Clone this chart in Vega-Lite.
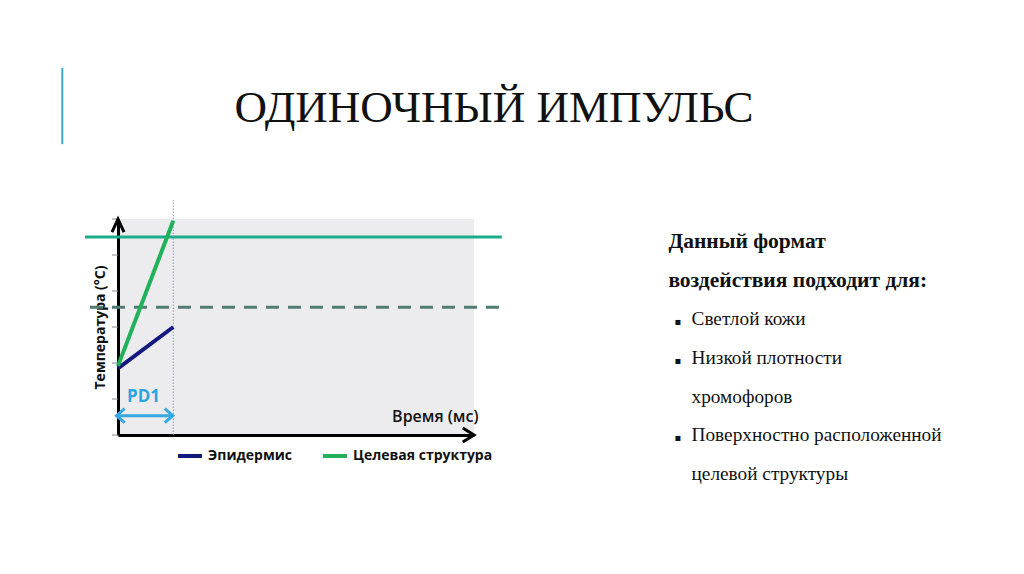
{
  "$schema": "https://vega.github.io/schema/vega-lite/v6.json",
  "width": 356,
  "height": 216,
  "autosize": {"type": "none"},
  "padding": {"left": 118, "top": 219, "right": 550, "bottom": 139},
  "background": "white",
  "config": {
    "view": {"fill": "#ececee", "stroke": null},
    "font": "Open Sans",
    "axisX": {
      "ticks": false,
      "labels": false,
      "grid": false,
      "domainColor": "#000",
      "domainWidth": 3,
      "titleX": 360,
      "titleY": -19,
      "titleAlign": "right",
      "titleBaseline": "middle",
      "titleFont": "Open Sans",
      "titleFontSize": 16,
      "titleFontWeight": 600,
      "titleColor": "#111"
    },
    "axisY": {
      "ticks": false,
      "labels": false,
      "grid": false,
      "domainColor": "#000",
      "domainWidth": 3,
      "titleFont": "Open Sans",
      "titleFontSize": 14,
      "titleFontWeight": "bold",
      "titleColor": "#111",
      "titlePadding": 11
    }
  },
  "datasets": {
    "series": [
      {"series": "Эпидермис", "time": 0, "temp": 1.85},
      {"series": "Эпидермис", "time": 15.53, "temp": 3.0},
      {"series": "Целевая структура", "time": 0, "temp": 1.92},
      {"series": "Целевая структура", "time": 15.53, "temp": 5.95}
    ],
    "yticks": [
      {"temp": 0}, {"temp": 1}, {"temp": 2}, {"temp": 3}, {"temp": 4}, {"temp": 5}, {"temp": 6}
    ],
    "notes": [
      {"line": 1, "text": "Данный формат", "kind": "heading", "bullet": false},
      {"line": 2, "text": "воздействия подходит для:", "kind": "heading", "bullet": false},
      {"line": 3, "text": "Светлой кожи", "kind": "item", "bullet": true},
      {"line": 4, "text": "Низкой плотности", "kind": "item", "bullet": true},
      {"line": 5, "text": "хромофоров", "kind": "item", "bullet": false},
      {"line": 6, "text": "Поверхностно расположенной", "kind": "item", "bullet": true},
      {"line": 7, "text": "целевой структуры", "kind": "item", "bullet": false}
    ]
  },
  "layer": [
    {
      "layer": [
        {
          "data": {"name": "yticks"},
          "mark": {"type": "rule", "color": "#8a8a8a", "strokeWidth": 1},
          "encoding": {
            "x": {"datum": -1.7},
            "x2": {"datum": 0},
            "y": {"field": "temp", "type": "quantitative"}
          }
        },
        {
          "data": {"name": "series"},
          "mark": {"type": "line", "strokeWidth": 4, "opacity": 0},
          "encoding": {
            "x": {
              "field": "time",
              "type": "quantitative",
              "scale": {"domain": [0, 100], "nice": false, "zero": false},
              "axis": {"title": "Время (мс)"}
            },
            "y": {
              "field": "temp",
              "type": "quantitative",
              "scale": {"domain": [0, 6], "nice": false, "zero": false},
              "axis": {"title": "Температура (°C)"}
            },
            "detail": {"field": "series", "type": "nominal"}
          }
        },
        {
          "data": {"values": [{}]},
          "mark": {"type": "rule", "color": "#3aa9d9", "strokeWidth": 2},
          "encoding": {
            "x": {"datum": -15.65},
            "y": {"datum": 10.2},
            "y2": {"datum": 8.08}
          }
        },
        {
          "data": {"values": [{}]},
          "mark": {"type": "text", "text": "ОДИНОЧНЫЙ ИМПУЛЬС", "font": "Liberation Serif", "fontSize": 45, "align": "center", "baseline": "alphabetic", "color": "#111"},
          "encoding": {
            "x": {"datum": 105.6},
            "y": {"datum": 8.69}
          }
        },
        {
          "data": {"values": [{}]},
          "mark": {"type": "rule", "color": "#4f7b73", "strokeWidth": 3, "strokeDash": [13, 9]},
          "encoding": {
            "x": {"datum": -7.87},
            "x2": {"datum": 109.1},
            "y": {"datum": 3.55}
          }
        },
        {
          "data": {"values": [{}]},
          "mark": {"type": "rule", "color": "#1bac88", "strokeWidth": 3},
          "encoding": {
            "x": {"datum": -9.27},
            "x2": {"datum": 107.8},
            "y": {"datum": 5.5}
          }
        },
        {
          "data": {"values": [{}]},
          "mark": {"type": "rule", "color": "#8aa0b0", "strokeWidth": 1, "strokeDash": [1.5, 1.5]},
          "encoding": {
            "x": {"datum": 15.53},
            "y": {"datum": 0},
            "y2": {"datum": 6.53}
          }
        },
        {
          "data": {"name": "series"},
          "mark": {"type": "line", "strokeWidth": 4},
          "encoding": {
            "x": {"field": "time", "type": "quantitative"},
            "y": {"field": "temp", "type": "quantitative"},
            "color": {
              "field": "series",
              "type": "nominal",
              "scale": {"domain": ["Эпидермис", "Целевая структура"], "range": ["#141a7b", "#20b15a"]},
              "legend": {
                "orient": "none",
                "legendX": 58,
                "legendY": 223,
                "direction": "horizontal",
                "title": null,
                "symbolType": "stroke",
                "symbolSize": 576,
                "symbolStrokeWidth": 4,
                "labelFont": "Open Sans",
                "labelFontWeight": "bold",
                "labelFontSize": 14,
                "labelColor": "#111",
                "labelOffset": 4,
                "columnPadding": 22,
                "padding": 0
              }
            }
          }
        },
        {
          "data": {"values": [{}]},
          "mark": {"type": "point", "shape": "M-1,2.2L0,0L1,2.2", "size": 144, "filled": false, "color": "#000", "strokeWidth": 3, "opacity": 1},
          "encoding": {
            "x": {"datum": 0},
            "y": {"datum": 6}
          }
        },
        {
          "data": {"values": [{}]},
          "mark": {"type": "point", "shape": "M-1.6,-1L0,0L-1.6,1", "size": 196, "filled": false, "color": "#000", "strokeWidth": 3, "opacity": 1},
          "encoding": {
            "x": {"datum": 100},
            "y": {"datum": 0}
          }
        },
        {
          "data": {"values": [{}]},
          "mark": {"type": "rule", "color": "#35a9e1", "strokeWidth": 3},
          "encoding": {
            "x": {"datum": -0.1},
            "x2": {"datum": 15.2},
            "y": {"datum": 0.536}
          }
        },
        {
          "data": {"values": [{}]},
          "mark": {"type": "point", "shape": "M1.15,-1L0,0L1.15,1", "size": 196, "filled": false, "color": "#35a9e1", "strokeWidth": 3, "opacity": 1},
          "encoding": {
            "x": {"datum": -0.42},
            "y": {"datum": 0.536}
          }
        },
        {
          "data": {"values": [{}]},
          "mark": {"type": "point", "shape": "M-1.15,-1L0,0L-1.15,1", "size": 196, "filled": false, "color": "#35a9e1", "strokeWidth": 3, "opacity": 1},
          "encoding": {
            "x": {"datum": 15.4},
            "y": {"datum": 0.536}
          }
        },
        {
          "data": {"values": [{}]},
          "mark": {"type": "text", "text": "PD1", "font": "Open Sans", "fontWeight": "bold", "fontSize": 17, "align": "center", "baseline": "middle", "color": "#2aa5df"},
          "encoding": {
            "x": {"datum": 7.16},
            "y": {"datum": 1.05}
          }
        }
      ]
    },
    {
      "data": {"name": "notes"},
      "encoding": {
        "y": {
          "field": "line",
          "type": "ordinal",
          "scale": {"type": "point", "domain": [1, 2, 3, 4, 5, 6, 7], "range": [29, 261], "padding": 0},
          "axis": null
        }
      },
      "layer": [
        {
          "transform": [{"filter": "datum.kind === 'heading'"}],
          "mark": {"type": "text", "font": "Liberation Serif", "fontWeight": "bold", "fontSize": 21.5, "align": "left", "baseline": "alphabetic", "color": "#111"},
          "encoding": {
            "x": {"datum": 154.6},
            "text": {"field": "text"}
          }
        },
        {
          "transform": [{"filter": "datum.kind === 'item'"}],
          "mark": {"type": "text", "font": "Liberation Serif", "fontSize": 19.3, "align": "left", "baseline": "alphabetic", "color": "#111"},
          "encoding": {
            "x": {"datum": 161.1},
            "text": {"field": "text"}
          }
        },
        {
          "transform": [{"filter": "datum.bullet"}],
          "mark": {"type": "text", "text": "▪", "font": "DejaVu Sans", "fontSize": 10, "align": "left", "baseline": "alphabetic", "color": "#111"},
          "encoding": {
            "x": {"datum": 156.3}
          }
        }
      ]
    }
  ],
  "resolve": {"scale": {"y": "independent"}}
}
